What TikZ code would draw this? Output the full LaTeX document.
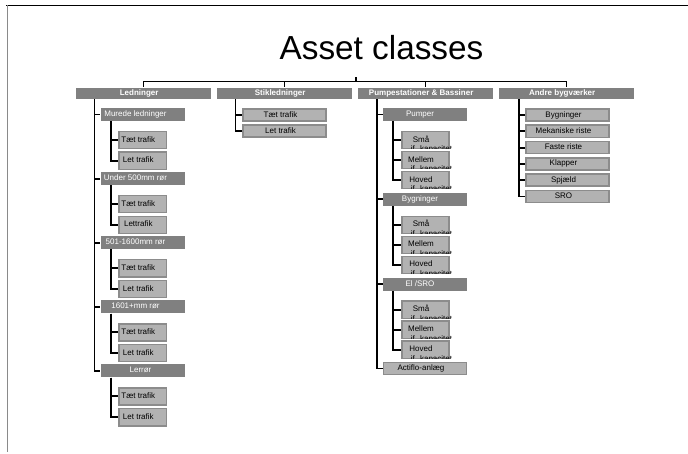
\documentclass[tikz,border=0pt]{standalone}
\usepackage{fontspec}
\setmainfont{Liberation Sans}
\definecolor{hdrgray}{HTML}{808080}
\definecolor{leafgray}{HTML}{B2B2B2}
\definecolor{leafedge}{HTML}{8C8C8C}
\definecolor{framegray}{HTML}{8A8A8A}
\tikzset{
  boxfont/.style={font=\fontsize{6}{7.2}\selectfont},
  basebox/.style={inner sep=0pt, text height=4.4pt, text depth=1.3pt, boxfont},
  tshift/.style={execute at end node={\kern#1}},
  hdr/.style={basebox, fill=hdrgray, text=white, font=\fontsize{6}{7.2}\selectfont\bfseries,
    minimum width=101.25pt, minimum height=8.6pt, tshift=6.5pt},
  subcore/.style={basebox, fill=hdrgray, text=white, minimum width=63pt, minimum height=9.75pt},
  subbox/.style={subcore, tshift=7.5pt},
  subA/.style={subcore, tshift=10.5pt},
  leafcore/.style={basebox, fill=leafgray, draw=leafedge, line width=1.2pt, text=black},
  smallleaf/.style={leafcore, minimum width=35.6pt, minimum height=12.8pt, tshift=6.75pt},
  wideleaf/.style={leafcore, minimum width=62pt, minimum height=9.1pt, tshift=6pt},
  conn/.style={draw=black, line width=1.45pt},
  lbl/.style={inner sep=0pt, boxfont, text=black},
}
\begin{document}
\begin{tikzpicture}[x=0.75pt,y=-0.75pt]
\useasboundingbox (0,0) rectangle (688,453);
% page frame
\draw[black, line width=0.8pt] (6,5.5) -- (688,5.5);
\draw[framegray, line width=1.1pt] (7.5,5.5) -- (7.5,452);
% title
\node[anchor=base, inner sep=0pt, font=\fontsize{25}{30}\selectfont] (title) at (381.5,60) {Asset classes};
% headers
\node[hdr] (H1) at (143.5,93.25) {Ledninger};
\node[hdr] (H2) at (284.5,93.25) {Stikledninger};
\node[hdr] (H3) at (425.5,93.25) {Pumpestationer \& Bassiner};
\node[hdr] (H4) at (566.5,93.25) {Andre bygværker};
\coordinate (root) at (356,77.5);
\coordinate (bar) at (356,81.5);
\draw[conn] (root) -- (bar);
\foreach \h in {H1,H2,H3,H4} \draw[conn] (bar) -| (\h.north);
% ---- column 1: Ledninger
\node[subA] (A1) at (142.5,114.5) {Murede ledninger};
\node[subA] (A2) at (142.5,178.6) {Under 500mm rør};
\node[subA] (A3) at (142.5,242.7) {501-1600mm rør};
\node[subA] (A4) at (142.5,306.8) {1601+mm rør};
\node[subcore, tshift=3pt] (A5) at (142.5,370.9) {Lerrør};
\node[smallleaf] (A1a) at (142.8,140.0) {Tæt trafik};
\node[smallleaf] (A1b) at (142.8,160.8) {Let trafik};
\node[smallleaf] (A2a) at (142.8,204.1) {Tæt trafik};
\node[smallleaf] (A2b) at (142.8,224.9) {Lettrafik};
\node[smallleaf] (A3a) at (142.8,268.2) {Tæt trafik};
\node[smallleaf] (A3b) at (142.8,289.0) {Let trafik};
\node[smallleaf] (A4a) at (142.8,332.3) {Tæt trafik};
\node[smallleaf] (A4b) at (142.8,353.1) {Let trafik};
\node[smallleaf] (A5a) at (142.8,396.4) {Tæt trafik};
\node[smallleaf] (A5b) at (142.8,417.2) {Let trafik};
\coordinate (T1) at (94.5,99);
\foreach \n in {A1,A2,A3,A4,A5} {
  \draw[conn] (T1) |- (\n.west);
  \draw[conn] ([shift={(11,0)}]\n.south west) |- (\n a.west);
  \draw[conn] ([shift={(11,0)}]\n.south west) |- (\n b.west);
}
% ---- column 2: Stikledninger
\node[wideleaf] (B1) at (284.5,115) {Tæt trafik};
\node[wideleaf] (B2) at (284.5,131) {Let trafik};
\coordinate (T2) at (235.5,99);
\foreach \n in {B1,B2} \draw[conn] (T2) |- (\n.west);
% ---- column 3: Pumpestationer & Bassiner
\node[subbox] (C1) at (425,114.5) {Pumper};
\node[subbox] (C2) at (425,199.4) {Bygninger};
\node[subbox] (C3) at (425,284.3) {El /SRO};
\node[wideleaf] (C4) at (425,368.5) {Actiflo-anlæg};
\foreach \n/\y in {C1/114.5,C2/199.4,C3/284.3} {
  \node[smallleaf] (\n a) at (425.5,\y+25.5) {Små};
  \node[smallleaf] (\n b) at (425.5,\y+45.5) {Mellem};
  \node[smallleaf] (\n c) at (425.5,\y+65.5) {Hoved};
  \draw[conn] ([shift={(10.3,0)}]\n.south west) |- (\n a.west);
  \draw[conn] ([shift={(10.3,0)}]\n.south west) |- (\n b.west);
  \draw[conn] ([shift={(10.3,0)}]\n.south west) |- (\n c.west);
}
\foreach \n in {C1a,C1b,C1c,C2a,C2b,C2c,C3a,C3b,C3c} {
  \begin{scope}
    \clip (\n.north west) rectangle ([shift={(3,-0.5)}]\n.south east);
    \node[lbl, anchor=base] (\n-jf) at ([shift={(6,11.5)}]\n.center) {jf. kapacitet};
  \end{scope}
}
\coordinate (T3) at (376.7,99);
\foreach \n in {C1,C2,C3,C4} \draw[conn] (T3) |- (\n.west);
% ---- column 4: Andre bygværker
\node[wideleaf] (D1) at (567.5,115.0) {Bygninger};
\node[wideleaf] (D2) at (567.5,131.3) {Mekaniske riste};
\node[wideleaf] (D3) at (567.5,147.6) {Faste riste};
\node[wideleaf] (D4) at (567.5,163.9) {Klapper};
\node[wideleaf] (D5) at (567.5,180.2) {Spjæld};
\node[wideleaf] (D6) at (567.5,196.5) {SRO};
\coordinate (T4) at (519.3,99);
\foreach \n in {D1,D2,D3,D4,D5,D6} \draw[conn] (T4) |- (\n.west);
\end{tikzpicture}
\end{document}
